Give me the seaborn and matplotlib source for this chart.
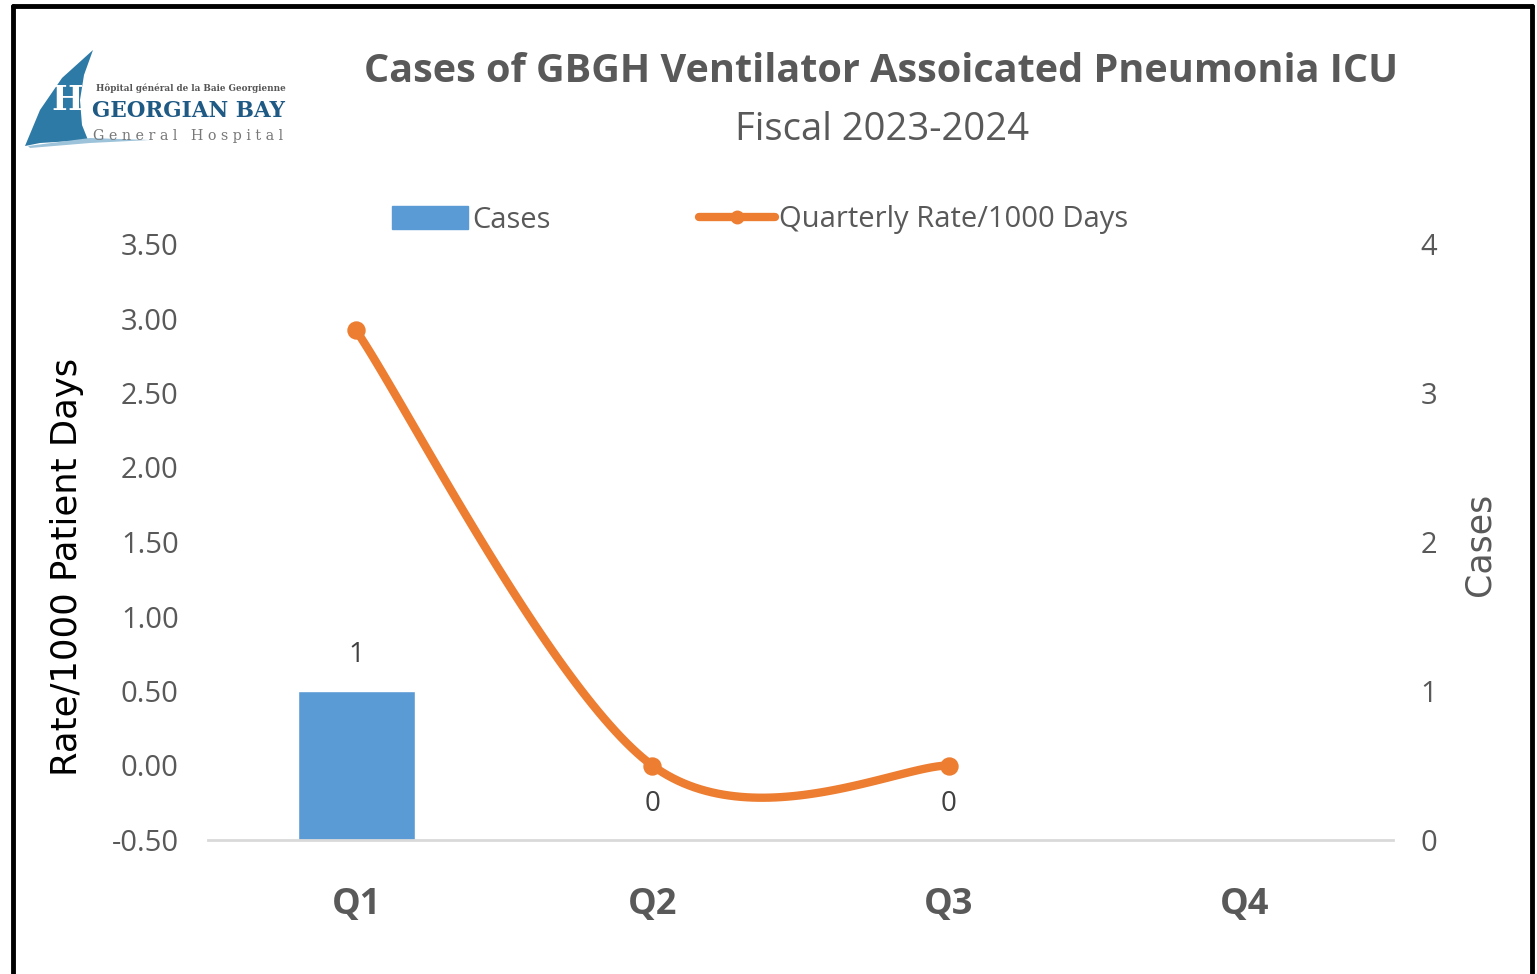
import numpy as np
import pandas as pd
import matplotlib
matplotlib.use("Agg")
import matplotlib.pyplot as plt
import seaborn as sns
from matplotlib.lines import Line2D
from matplotlib.patches import Polygon, Rectangle

# ---- data ----
quarters = ["Q1", "Q2", "Q3", "Q4"]
cases = [1, 0, 0, np.nan]
rate = [2.92, 0.00, 0.00, np.nan]
title = "Cases of GBGH Ventilator Assoicated Pneumonia ICU"
subtitle = "Fiscal 2023-2024"
left_ticks = [-0.5, 0.0, 0.5, 1.0, 1.5, 2.0, 2.5, 3.0, 3.5]
right_ticks = [0, 1, 2, 3, 4]

sns.set_theme(style="white")
NARROW = ["Open Sans", "DejaVu Sans"]
plt.rcParams["font.family"] = NARROW

W, H = 1537, 974
fig = plt.figure(figsize=(W / 100, H / 100), dpi=100)
fig.patch.set_facecolor("white")

def fx(px):
    return px / W

def fy(py):
    return 1 - py / H

AX_L, AX_R, AX_T, AX_B = 208, 1393, 244, 840
ax = fig.add_axes([fx(AX_L), fy(AX_B), fx(AX_R) - fx(AX_L), fy(AX_T) - fy(AX_B)])
ax2 = ax.twinx()

BLUE = "#5B9BD5"
ORANGE = "#ED7D31"
GREY = "#595959"

df = pd.DataFrame({"quarter": quarters, "cases": cases, "rate": rate})

# bars on right axis
sns.barplot(data=df, x="quarter", y="cases", order=quarters, ax=ax2,
            color=BLUE, width=0.395, saturation=1, errorbar=None)
labels = ["" if np.isnan(v) else f"{int(v)}" for v in cases]
if ax2.containers:
    cont = ax2.containers[0]
    labs = labels[:len(cont.patches)]
    ax2.bar_label(cont, labels=labs, padding=16, fontsize=20, color="#404040",
                  family=NARROW)

# smoothed line (Excel-like Catmull-Rom Bezier) on left axis
xs = np.array([i for i, v in enumerate(rate) if not np.isnan(v)], float)
ys = np.array([v for v in rate if not np.isnan(v)], float)
cx, cy = [], []
t = np.linspace(0, 1, 60)
n = len(xs)
for i in range(n - 1):
    p0 = (xs[max(i - 1, 0)], ys[max(i - 1, 0)])
    p1 = (xs[i], ys[i])
    p2 = (xs[i + 1], ys[i + 1])
    p3 = (xs[min(i + 2, n - 1)], ys[min(i + 2, n - 1)])
    c1 = (p1[0] + (p2[0] - p0[0]) / 6, p1[1] + (p2[1] - p0[1]) / 6)
    c2 = (p2[0] - (p3[0] - p1[0]) / 6, p2[1] - (p3[1] - p1[1]) / 6)
    bx = (1 - t) ** 3 * p1[0] + 3 * (1 - t) ** 2 * t * c1[0] + 3 * (1 - t) * t ** 2 * c2[0] + t ** 3 * p2[0]
    by = (1 - t) ** 3 * p1[1] + 3 * (1 - t) ** 2 * t * c1[1] + 3 * (1 - t) * t ** 2 * c2[1] + t ** 3 * p2[1]
    cx.extend(bx)
    cy.extend(by)
ax.plot(cx, cy, color=ORANGE, lw=6, solid_capstyle="round", zorder=3)
sns.scatterplot(x=xs, y=ys, ax=ax, color=ORANGE, s=150, marker="o",
                edgecolor=ORANGE, zorder=4, legend=False)

ax.set_zorder(ax2.get_zorder() + 1)
ax.patch.set_visible(False)

ax.set_xlim(-0.5, 3.5)
ax2.set_xlim(-0.5, 3.5)
ax.set_ylim(-0.5, 3.5)
ax2.set_ylim(0, 4)
ax.set_yticks(left_ticks)
ax.set_yticklabels([f"{v:.2f}" for v in left_ticks], fontsize=21, color=GREY)
ax2.set_yticks(right_ticks)
ax2.set_yticklabels([str(v) for v in right_ticks], fontsize=21, color=GREY)
ax.set_xticks(range(len(quarters)))
ax.set_xticklabels(quarters, fontsize=26, color=GREY, fontweight="bold")
ax2.set_xlabel("")
ax.tick_params(axis="x", length=0, pad=34)
ax.tick_params(axis="y", length=0, pad=21)
ax2.tick_params(axis="y", length=0, pad=20)
ax2.tick_params(axis="x", length=0)

for a in (ax, ax2):
    for s in a.spines.values():
        s.set_visible(False)
    a.grid(False)
ax.spines["bottom"].set_visible(True)
ax.spines["bottom"].set_color("#D9D9D9")
ax.spines["bottom"].set_linewidth(2)

axw = AX_R - AX_L
axh = AX_B - AX_T
ax.set_ylabel("Rate/1000 Patient Days", fontsize=25.5, color="black",
              family=["DejaVu Sans"])
ax.yaxis.set_label_coords((84 - AX_L) / axw, (AX_B - 567) / axh)
ax2.set_ylabel("Cases", fontsize=25, color=GREY, family=["DejaVu Sans"])
ax2.yaxis.set_label_coords((1463 - AX_L) / axw, (AX_B - 544) / axh)
ax.set_xlabel("")

# titles
fig.text(fx(881), fy(72), title, ha="center", va="center", fontsize=28.5,
         fontweight="bold", color=GREY)
fig.text(fx(882), fy(130), subtitle, ha="center", va="center", fontsize=27.5,
         color=GREY)

# legend
handles = [Rectangle((0, 0), 1, 1, color=BLUE),
           Line2D([0], [0], color=ORANGE, lw=6, marker="o", markersize=9)]
fig.legend(handles, ["Cases", "Quarterly Rate/1000 Days"], loc="center",
           bbox_to_anchor=(fx(760), fy(220)), ncol=2, frameon=False,
           fontsize=21, labelcolor=GREY, handlelength=2.6, handletextpad=0.15,
           columnspacing=5.1, handleheight=0.8)

# frame
for xy in [([fx(13), fx(13)], [fy(6), 0]), ([fx(13), fx(1532)], [fy(6), fy(6)]),
           ([fx(1532), fx(1532)], [fy(6), 0])]:
    fig.add_artist(Line2D(xy[0], xy[1], color="black", lw=3.5,
                          transform=fig.transFigure))

# logo
sail = Polygon([(fx(25), fy(146)), (fx(40), fy(110)), (fx(62), fy(78)),
                (fx(93), fy(50)), (fx(84), fy(75)), (fx(80), fy(100)),
                (fx(82), fy(125)), (fx(88), fy(140)), (fx(40), fy(143))],
               closed=True, transform=fig.transFigure, facecolor="#2E7AA6",
               edgecolor="none")
fig.add_artist(sail)
fig.add_artist(Polygon([(fx(28), fy(146)), (fx(90), fy(138)), (fx(150), fy(140)),
                        (fx(90), fy(143)), (fx(30), fy(148))], closed=True,
                       transform=fig.transFigure, facecolor="#9CC3DA",
                       edgecolor="none"))
fig.text(fx(67), fy(100), "H", ha="center", va="center", fontsize=24,
         fontweight="bold", color="white", family=["DejaVu Serif"])
fig.text(fx(96), fy(88), "Hôpital général de la Baie Georgienne", ha="left",
         va="center", fontsize=6.3, fontweight="bold", color="#555555",
         family=["DejaVu Serif"])
fig.text(fx(92), fy(111), "GEORGIAN BAY", ha="left", va="center", fontsize=15.5,
         fontweight="bold", color="#1F5A85", family=["DejaVu Serif"])
fig.text(fx(93), fy(136), "G e n e r a l   H o s p i t a l", ha="left",
         va="center", fontsize=10.3, color="#777777", family=["DejaVu Serif"])

fig.savefig("out.png", dpi=100, facecolor="white")
